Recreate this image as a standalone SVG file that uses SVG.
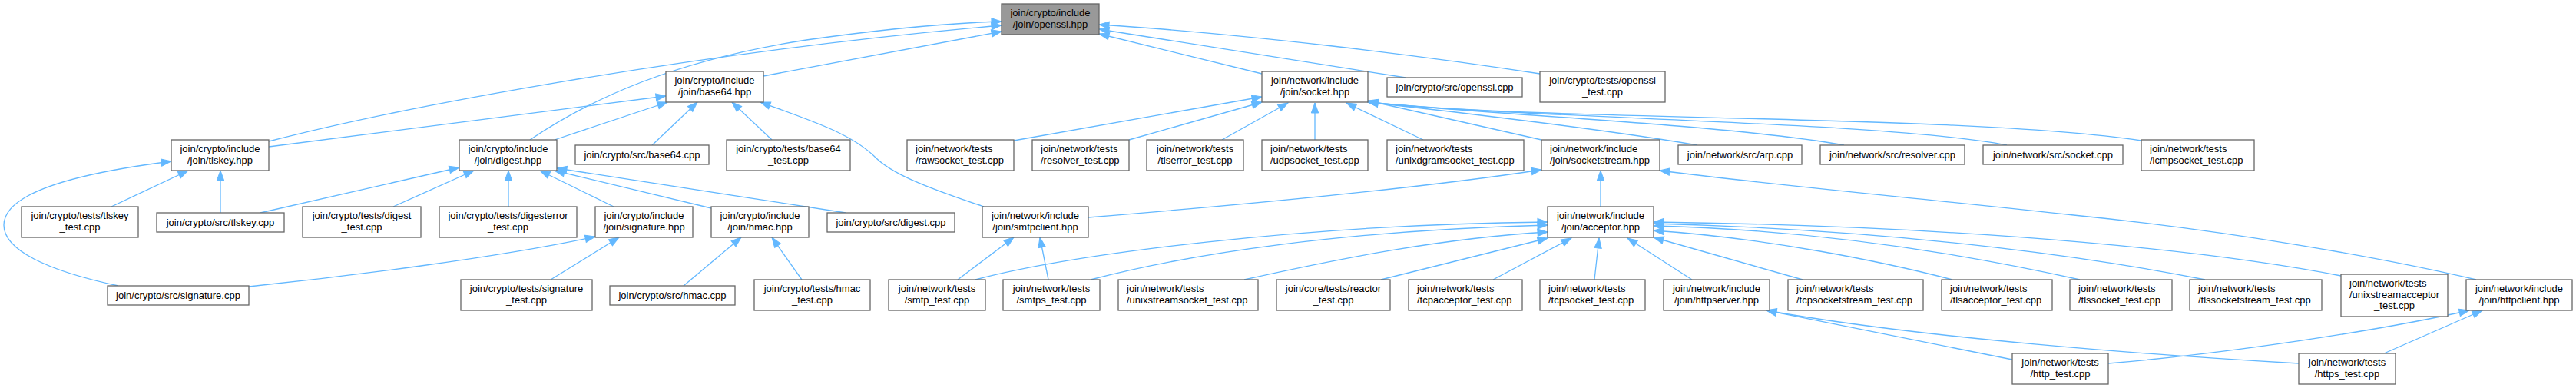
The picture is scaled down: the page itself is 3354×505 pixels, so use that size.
<svg xmlns="http://www.w3.org/2000/svg" width="3354" height="505" viewBox="0 0 3354 505">
<style>
  .n rect { fill: #ffffff; stroke: #666666; stroke-width: 1.3; }
  .n.hl rect { fill: #999999; }
  .n text { font-family: "Liberation Sans", Arial, Helvetica, sans-serif; font-size: 13px; fill: #000000; text-anchor: middle; }
  .n text.l { text-anchor: start; }
  #edges path { fill: none; stroke: #63b8ff; stroke-width: 1.3; marker-end: url(#arr); }
</style>
<defs>
  <marker id="arr" markerUnits="userSpaceOnUse" markerWidth="14" markerHeight="10" refX="13" refY="5" orient="auto" overflow="visible">
    <path d="M0,0.3 L13,5 L0,9.7 z" fill="#63b8ff" stroke="#63b8ff" stroke-width="1"/>
  </marker>
</defs>
<rect width="3354" height="505" fill="#ffffff"/>
<g id="edges">
  <path d="M350,184 C520,140 900,68 1304,33"/>
  <path d="M690,182 C770,128 880,78 1050,52 C1150,38 1230,30 1304,28"/>
  <path d="M994,99 L1304,41"/>
  <path d="M1643,96 L1431,44"/>
  <path d="M1830,101 L1431,38"/>
  <path d="M2005,96 C1850,72 1620,44 1431,32"/>
  <path d="M154,372 C60,352 5,325 5,293 C5,255 80,228 223,210"/>
  <path d="M145,269 L245,222"/>
  <path d="M287,277 L287,222"/>
  <path d="M339,277 L598,218"/>
  <path d="M512,269 L617,222"/>
  <path d="M662,269 L662,222"/>
  <path d="M799,269 L703,222"/>
  <path d="M926,271 L722,222"/>
  <path d="M1101,277 L725,219"/>
  <path d="M324,373 C450,360 650,335 775,308"/>
  <path d="M717,364 L806,309"/>
  <path d="M890,372 L965,309"/>
  <path d="M1044,364 L1005,309"/>
  <path d="M350,191 L867,125"/>
  <path d="M722,182 L869,133"/>
  <path d="M849,189 L908,133"/>
  <path d="M1005,182 L953,133"/>
  <path d="M1281,269 C1200,242 1160,225 1140,205 C1110,175 1060,158 990,133"/>
  <path d="M1320,183 L1643,126"/>
  <path d="M1470,182 L1643,133"/>
  <path d="M1591,182 L1677,134"/>
  <path d="M1712,182 L1712,134"/>
  <path d="M1853,182 L1753,134"/>
  <path d="M2007,182 L1781,131"/>
  <path d="M2210,189 C2100,170 1900,146 1781,133"/>
  <path d="M2401,189 C2250,162 1950,150 1781,133"/>
  <path d="M2613,189 C2450,158 2000,155 1781,133"/>
  <path d="M2788,183 C2550,148 2000,158 1781,133"/>
  <path d="M1417,283 C1600,268 1850,245 2007,221"/>
  <path d="M2084,269 L2084,222"/>
  <path d="M3224,364 C3100,335 2900,300 2700,280 C2500,258 2300,240 2161,222"/>
  <path d="M1270,364 C1400,330 1700,292 2015,289"/>
  <path d="M1420,364 C1550,330 1750,300 2015,293"/>
  <path d="M1620,364 C1750,335 1880,310 2015,302"/>
  <path d="M1798,364 L2015,310"/>
  <path d="M1944,364 L2046,310"/>
  <path d="M2076,364 L2082,310"/>
  <path d="M2203,364 L2119,310"/>
  <path d="M2347,364 L2153,309"/>
  <path d="M2542,364 C2450,340 2300,310 2153,300"/>
  <path d="M2708,364 C2600,340 2400,300 2153,294"/>
  <path d="M2871,364 C2750,340 2500,300 2153,291"/>
  <path d="M3048,359 C2900,330 2600,295 2153,289"/>
  <path d="M2620,468 C2500,445 2400,425 2300,404"/>
  <path d="M2993,473 C2800,462 2500,440 2300,404"/>
  <path d="M2745,473 C2900,460 3100,430 3215,404"/>
  <path d="M3104,460 L3232,404"/>
  <path d="M1247,364 L1320,309"/>
  <path d="M1365,364 L1354,309"/>
</g>
<g id="openssl_hpp" class="n hl"><rect x="1304" y="5" width="127" height="40"/><text x="1367.5" y="21">join/crypto/include</text><text x="1367.5" y="35.5">/join/openssl.hpp</text></g>
<g id="base64_hpp" class="n"><rect x="867" y="93" width="127" height="40"/><text x="930.5" y="109">join/crypto/include</text><text x="930.5" y="123.5">/join/base64.hpp</text></g>
<g id="socket_hpp" class="n"><rect x="1643" y="93" width="138" height="40"/><text x="1712" y="109">join/network/include</text><text x="1712" y="123.5">/join/socket.hpp</text></g>
<g id="openssl_cpp" class="n"><rect x="1806" y="101" width="176" height="25"/><text x="1894" y="118">join/crypto/src/openssl.cpp</text></g>
<g id="openssl_test" class="n"><rect x="2005" y="93" width="163" height="40"/><text x="2086.5" y="109">join/crypto/tests/openssl</text><text x="2086.5" y="123.5">_test.cpp</text></g>
<g id="tlskey_hpp" class="n"><rect x="223" y="182" width="127" height="40"/><text x="286.5" y="198">join/crypto/include</text><text x="286.5" y="212.5">/join/tlskey.hpp</text></g>
<g id="digest_hpp" class="n"><rect x="598" y="182" width="127" height="40"/><text x="661.5" y="198">join/crypto/include</text><text x="661.5" y="212.5">/join/digest.hpp</text></g>
<g id="base64_cpp" class="n"><rect x="749" y="189" width="174" height="25"/><text x="836" y="206">join/crypto/src/base64.cpp</text></g>
<g id="base64_test" class="n"><rect x="946" y="182" width="161" height="40"/><text x="1026.5" y="198">join/crypto/tests/base64</text><text x="1026.5" y="212.5">_test.cpp</text></g>
<g id="rawsocket_test" class="n"><rect x="1181" y="182" width="139" height="40"/><text class="l" x="1192" y="198">join/network/tests</text><text class="l" x="1192" y="212.5">/rawsocket_test.cpp</text></g>
<g id="resolver_test" class="n"><rect x="1344" y="182" width="126" height="40"/><text class="l" x="1355" y="198">join/network/tests</text><text class="l" x="1355" y="212.5">/resolver_test.cpp</text></g>
<g id="tlserror_test" class="n"><rect x="1493" y="182" width="126" height="40"/><text x="1556" y="198">join/network/tests</text><text x="1556" y="212.5">/tlserror_test.cpp</text></g>
<g id="udpsocket_test" class="n"><rect x="1643" y="182" width="138" height="40"/><text class="l" x="1654" y="198">join/network/tests</text><text class="l" x="1654" y="212.5">/udpsocket_test.cpp</text></g>
<g id="unixdgramsocket_test" class="n"><rect x="1806" y="182" width="178" height="40"/><text class="l" x="1817" y="198">join/network/tests</text><text class="l" x="1817" y="212.5">/unixdgramsocket_test.cpp</text></g>
<g id="socketstream_hpp" class="n"><rect x="2007" y="182" width="154" height="40"/><text class="l" x="2018" y="198">join/network/include</text><text class="l" x="2018" y="212.5">/join/socketstream.hpp</text></g>
<g id="arp_cpp" class="n"><rect x="2185" y="189" width="161" height="25"/><text x="2265.5" y="206">join/network/src/arp.cpp</text></g>
<g id="resolver_cpp" class="n"><rect x="2370" y="189" width="188" height="25"/><text x="2464" y="206">join/network/src/resolver.cpp</text></g>
<g id="socket_cpp" class="n"><rect x="2582" y="189" width="182" height="25"/><text x="2673" y="206">join/network/src/socket.cpp</text></g>
<g id="icmpsocket_test" class="n"><rect x="2788" y="182" width="147" height="40"/><text class="l" x="2799" y="198">join/network/tests</text><text class="l" x="2799" y="212.5">/icmpsocket_test.cpp</text></g>
<g id="tlskey_test" class="n"><rect x="28" y="269" width="152" height="40"/><text x="104" y="285">join/crypto/tests/tlskey</text><text x="104" y="299.5">_test.cpp</text></g>
<g id="tlskey_cpp" class="n"><rect x="204" y="277" width="166" height="25"/><text x="287" y="294">join/crypto/src/tlskey.cpp</text></g>
<g id="digest_test" class="n"><rect x="394" y="269" width="154" height="40"/><text x="471" y="285">join/crypto/tests/digest</text><text x="471" y="299.5">_test.cpp</text></g>
<g id="digesterror_test" class="n"><rect x="572" y="269" width="179" height="40"/><text x="661.5" y="285">join/crypto/tests/digesterror</text><text x="661.5" y="299.5">_test.cpp</text></g>
<g id="signature_hpp" class="n"><rect x="775" y="269" width="127" height="40"/><text x="838.5" y="285">join/crypto/include</text><text x="838.5" y="299.5">/join/signature.hpp</text></g>
<g id="hmac_hpp" class="n"><rect x="926" y="269" width="127" height="40"/><text x="989.5" y="285">join/crypto/include</text><text x="989.5" y="299.5">/join/hmac.hpp</text></g>
<g id="digest_cpp" class="n"><rect x="1077" y="277" width="166" height="25"/><text x="1160" y="294">join/crypto/src/digest.cpp</text></g>
<g id="smtpclient_hpp" class="n"><rect x="1279" y="269" width="138" height="40"/><text x="1348" y="285">join/network/include</text><text x="1348" y="299.5">/join/smtpclient.hpp</text></g>
<g id="acceptor_hpp" class="n"><rect x="2015" y="269" width="138" height="40"/><text x="2084" y="285">join/network/include</text><text x="2084" y="299.5">/join/acceptor.hpp</text></g>
<g id="signature_cpp" class="n"><rect x="140" y="372" width="184" height="25"/><text x="232" y="389">join/crypto/src/signature.cpp</text></g>
<g id="signature_test" class="n"><rect x="600" y="364" width="171" height="40"/><text x="685.5" y="380">join/crypto/tests/signature</text><text x="685.5" y="394.5">_test.cpp</text></g>
<g id="hmac_cpp" class="n"><rect x="794" y="372" width="163" height="25"/><text x="875.5" y="389">join/crypto/src/hmac.cpp</text></g>
<g id="hmac_test" class="n"><rect x="982" y="364" width="151" height="40"/><text x="1057.5" y="380">join/crypto/tests/hmac</text><text x="1057.5" y="394.5">_test.cpp</text></g>
<g id="smtp_test" class="n"><rect x="1157" y="364" width="126" height="40"/><text x="1220" y="380">join/network/tests</text><text x="1220" y="394.5">/smtp_test.cpp</text></g>
<g id="smtps_test" class="n"><rect x="1306" y="364" width="126" height="40"/><text x="1369" y="380">join/network/tests</text><text x="1369" y="394.5">/smtps_test.cpp</text></g>
<g id="unixstreamsocket_test" class="n"><rect x="1456" y="364" width="182" height="40"/><text class="l" x="1467" y="380">join/network/tests</text><text class="l" x="1467" y="394.5">/unixstreamsocket_test.cpp</text></g>
<g id="reactor_test" class="n"><rect x="1662" y="364" width="148" height="40"/><text x="1736" y="380">join/core/tests/reactor</text><text x="1736" y="394.5">_test.cpp</text></g>
<g id="tcpacceptor_test" class="n"><rect x="1834" y="364" width="148" height="40"/><text class="l" x="1845" y="380">join/network/tests</text><text class="l" x="1845" y="394.5">/tcpacceptor_test.cpp</text></g>
<g id="tcpsocket_test" class="n"><rect x="2005" y="364" width="137" height="40"/><text class="l" x="2016" y="380">join/network/tests</text><text class="l" x="2016" y="394.5">/tcpsocket_test.cpp</text></g>
<g id="httpserver_hpp" class="n"><rect x="2166" y="364" width="138" height="40"/><text x="2235" y="380">join/network/include</text><text x="2235" y="394.5">/join/httpserver.hpp</text></g>
<g id="tcpsocketstream_test" class="n"><rect x="2328" y="364" width="176" height="40"/><text class="l" x="2339" y="380">join/network/tests</text><text class="l" x="2339" y="394.5">/tcpsocketstream_test.cpp</text></g>
<g id="tlsacceptor_test" class="n"><rect x="2528" y="364" width="144" height="40"/><text class="l" x="2539" y="380">join/network/tests</text><text class="l" x="2539" y="394.5">/tlsacceptor_test.cpp</text></g>
<g id="tlssocket_test" class="n"><rect x="2695" y="364" width="133" height="40"/><text class="l" x="2706" y="380">join/network/tests</text><text class="l" x="2706" y="394.5">/tlssocket_test.cpp</text></g>
<g id="tlssocketstream_test" class="n"><rect x="2851" y="364" width="172" height="40"/><text class="l" x="2862" y="380">join/network/tests</text><text class="l" x="2862" y="394.5">/tlssocketstream_test.cpp</text></g>
<g id="unixstreamacceptor_test" class="n"><rect x="3048" y="357" width="139" height="55"/><text class="l" x="3059" y="373">join/network/tests</text><text class="l" x="3059" y="387.5">/unixstreamacceptor</text><text x="3117.5" y="402">_test.cpp</text></g>
<g id="httpclient_hpp" class="n"><rect x="3211" y="364" width="138" height="40"/><text x="3280" y="380">join/network/include</text><text x="3280" y="394.5">/join/httpclient.hpp</text></g>
<g id="http_test" class="n"><rect x="2620" y="460" width="125" height="40"/><text x="2682.5" y="476">join/network/tests</text><text x="2682.5" y="490.5">/http_test.cpp</text></g>
<g id="https_test" class="n"><rect x="2993" y="460" width="126" height="40"/><text x="3056" y="476">join/network/tests</text><text x="3056" y="490.5">/https_test.cpp</text></g>
</svg>
